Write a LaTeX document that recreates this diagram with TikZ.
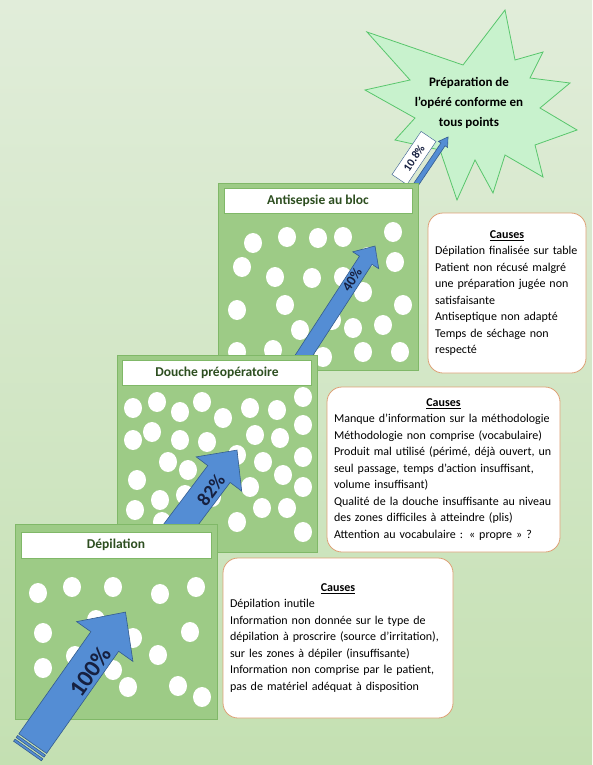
\documentclass[tikz,border=0pt]{standalone}
\usepackage{fontspec}
\setmainfont{Carlito}
\usepackage{tikz}
\usetikzlibrary{positioning}
\usepackage{xcolor}
\definecolor{bgtop}{RGB}{225,237,218}
\definecolor{bgbottom}{RGB}{196,224,178}
\definecolor{stepgreen}{RGB}{157,203,134}
\definecolor{stepline}{RGB}{128,184,104}
\definecolor{headgreen}{RGB}{45,78,32}
\definecolor{arrowblue}{RGB}{84,141,212}
\definecolor{arrowline}{RGB}{52,92,142}
\definecolor{causeline}{RGB}{222,160,118}
\definecolor{starfill}{RGB}{200,242,205}
\definecolor{starline}{RGB}{88,198,108}
\definecolor{pctnavy}{RGB}{22,32,64}

\begin{document}
\begin{tikzpicture}[x=1pt, y=-1pt,
  stepbox/.style={draw=stepline, fill=stepgreen, line width=0.8pt, inner sep=0pt},
  headbox/.style={draw=stepline, fill=white, line width=0.6pt, inner sep=0pt, minimum height=25pt, text=headgreen, font=\fontsize{13.5}{16}\selectfont\bfseries},
  causebox/.style={draw=causeline, fill=white, line width=0.8pt, rounded corners=15pt, align=left, inner xsep=7pt, font=\fontsize{12}{16.5}\selectfont},
  arrowbody/.style={draw=arrowline, fill=arrowblue, line width=0.6pt},
  pct/.style={text=pctnavy, inner sep=0pt},
  dot/.style={fill=white}]
  % Background
  \useasboundingbox (0,0) rectangle (592,765);
  \shade[top color=bgtop, bottom color=bgbottom] (0,0) rectangle (592,765);

  % Goal star
  \draw[fill=starfill, draw=starline, line width=0.8pt] (505,10) -- (515,60) -- (543,52) -- (530,78) -- (570,83) -- (540,108)
    -- (577,130) -- (535,145) -- (543,177) -- (505,155) -- (493,193) -- (475,160) -- (457,200) -- (440,150)
    -- (395,140) -- (415,118) -- (365,90) -- (410,80) -- (367,32) -- (463,65) -- cycle;
  \node[align=center, font=\fontsize{13}{20}\selectfont\bfseries] (objectif) at (469,103) {Préparation de\\l’opéré conforme en\\tous points};

  % 10.8 %
  \draw[arrowbody, shift={(403.3,203.3)}, rotate=56] (0,2.5) -- (71,2.5) -- (71,5.5) -- (80,0) -- (71,-5.5) -- (71,-2.5) -- (0,-2.5) -- cycle;
  \node[draw=arrowline, fill=white, rotate=56, minimum width=52pt, minimum height=18pt, inner sep=1pt, text=pctnavy, font=\fontsize{11.5}{13}\selectfont\bfseries] (p108) at (414,158) {10.8\%};

  % Antisepsie au bloc
  \node[stepbox, minimum width=200pt, minimum height=187pt] (bloc) at (318,276.5) {};
  \node[headbox, minimum width=188pt, below=5pt of bloc.north] (hbloc) {Antisepsie au bloc};
  \foreach \cx/\cy in {253/243, 287/237, 318/238, 343/237, 393/232, 242/267, 275/277, 312/278, 343/277, 368/257, 395/262,
    237/310, 285/305, 363/292, 403/305, 300/330, 332/320, 353/328, 383/325, 237/352, 273/350, 323/357, 363/352, 400/352}
    \fill[dot] (\cx,\cy) ellipse [x radius=9pt, y radius=10pt];
  \draw[arrowbody, shift={(293.3,371.8)}, rotate=57] (0,7.5) -- (133,7.5) -- (133,15.5) -- (150,0) -- (133,-15.5) -- (133,-7.5) -- (0,-7.5) -- cycle;
  \node[pct, rotate=57, font=\fontsize{14}{17}\selectfont\bfseries] (p40) at (352,280) {40\%};

  \node[causebox, minimum width=158pt, minimum height=160pt, text width=144pt] (cbloc) at (507,293)
    {{\centering\textbf{\underline{Causes}}\par}
     Dépilation finalisée sur table\\
     Patient non récusé malgré\\
     une préparation jugée non\\
     satisfaisante\\
     Antiseptique non adapté\\
     Temps de séchage non\\
     respecté};

  % Douche préopératoire
  \node[stepbox, minimum width=200pt, minimum height=197pt] (douche) at (217,453.5) {};
  \node[headbox, minimum width=189pt, below=5pt of douche.north] (hdouche) {Douche préopératoire};
  \foreach \cx/\cy in {133/408, 157/402, 180/412, 202/402, 223/418, 250/408, 277/410, 303/397,
    133/440, 152/432, 180/440, 207/442, 237/455, 255/435, 280/438, 303/425,
    168/462, 188/470, 263/462, 283/475, 303/457,
    137/480, 160/500, 185/495, 212/497, 250/487, 303/487,
    135/510, 162/522, 237/522, 262/508, 287/508, 303/532}
    \fill[dot] (\cx,\cy) ellipse [x radius=9pt, y radius=10pt];
  \draw[arrowbody, shift={(170.8,537.9)}, rotate=53] (0,14) -- (80,14) -- (80,28.5) -- (110,0) -- (80,-28.5) -- (80,-14) -- (0,-14) -- cycle;
  \node[pct, rotate=53, font=\fontsize{19}{23}\selectfont\bfseries] (p82) at (211,490) {82\%};

  \node[causebox, minimum width=233pt, minimum height=165pt, text width=219pt] (cdouche) at (443.5,469.5)
    {{\centering\textbf{\underline{Causes}}\par}
     Manque d’information sur la méthodologie\\
     Méthodologie non comprise (vocabulaire)\\
     Produit mal utilisé (périmé, déjà ouvert, un\\
     seul passage, temps d’action insuffisant,\\
     volume insuffisant)\\
     Qualité de la douche insuffisante au niveau\\
     des zones difficiles à atteindre (plis)\\
     Attention au vocabulaire : « propre » ?};

  % Dépilation
  \node[stepbox, minimum width=202pt, minimum height=195pt] (depil) at (116,621.5) {};
  \node[headbox, minimum width=190pt, minimum height=26pt, below=8pt of depil.north] (hdepil) {Dépilation};
  \foreach \cx/\cy in {38/593, 72/587, 113/587, 160/594, 196/587, 43/633, 96/620, 133/638, 190/632,
    43/668, 75/656, 113/670, 158/655, 128/687, 178/686, 202/697}
    \fill[dot] (\cx,\cy) ellipse [x radius=9pt, y radius=10pt];
  \draw[arrowbody, shift={(27.5,751)}, rotate=54.8] (0,17) rectangle (2.5,-17) (4.5,17) rectangle (7,-17)
    (9,17) -- (134,17) -- (134,34.5) -- (170,0) -- (134,-34.5) -- (134,-17) -- (9,-17) -- cycle;
  \node[pct, rotate=54.8, font=\fontsize{24}{29}\selectfont\bfseries] (p100) at (90,672) {100\%};

  \node[causebox, minimum width=230pt, minimum height=160pt, text width=216pt] (cdepil) at (338,638)
    {{\centering\textbf{\underline{Causes}}\par}
     Dépilation inutile\\
     Information non donnée sur le type de\\
     dépilation à proscrire (source d’irritation),\\
     sur les zones à dépiler (insuffisante)\\
     Information non comprise par le patient,\\
     pas de matériel adéquat à disposition};
\end{tikzpicture}
\end{document}
